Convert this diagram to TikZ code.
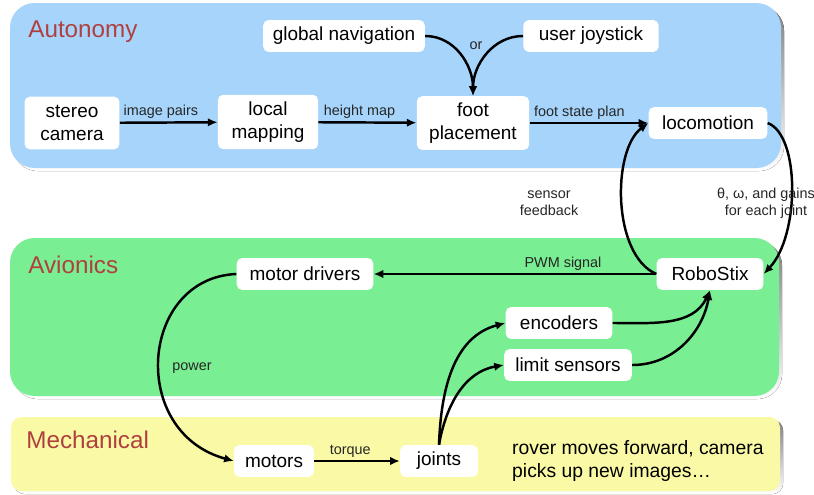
\documentclass[tikz,border=0pt]{standalone}
\usepackage{fontspec}
\setmainfont{Liberation Sans}
\usetikzlibrary{arrows.meta}

\definecolor{autoblue}{RGB}{166,212,251}
\definecolor{avgreen}{RGB}{122,238,146}
\definecolor{mechyellow}{RGB}{250,250,166}
\definecolor{titlered}{RGB}{176,64,64}
\definecolor{shade}{RGB}{150,150,150}

\tikzset{
	blk/.style={fill=white, rounded corners=3pt, align=center, inner xsep=0pt,
		font=\fontsize{10.8}{13}\selectfont, minimum height=18.1pt},
	lbl/.style={font=\fontsize{8.2}{9.8}\selectfont, text=black!85, align=center, inner sep=1.5pt},
	flow/.style={line width=1.4pt, -{Latex[length=5.5pt,width=4.8pt]}},
	ttl/.style={font=\fontsize{13.8}{16}\selectfont, text=titlered, anchor=west, inner sep=0pt},
}

\begin{document}
\begin{tikzpicture}[x=0.02cm, y=-0.02cm]
	\useasboundingbox (0,0) rectangle (814,494);

	% the three layers, each with its grey drop shadow
	\fill[shade, rounded corners=14pt] (13,6) rectangle (784,171);
	\fill[autoblue, rounded corners=14pt] (10,3) rectangle (781,168);
	\fill[shade, rounded corners=14pt] (13,241) rectangle (782,399);
	\fill[avgreen, rounded corners=14pt] (10,238) rectangle (779,396);
	\fill[shade, rounded corners=6pt] (14,420) rectangle (783,494);
	\fill[mechyellow, rounded corners=6pt] (11,417) rectangle (780,491);

	\node[ttl] (tauto) at (28,32) {Autonomy};
	\node[ttl] (tavio) at (28,265) {Avionics};
	\node[ttl] (tmech) at (26,440) {Mechanical};

	% autonomy
	\node[blk, minimum width=92pt] (gnav) at (344,36) {global navigation};
	\node[blk, minimum width=77pt] (joy) at (591,36) {user joystick};
	\node[blk, minimum width=54pt, minimum height=30pt] (cam) at (72,123) {stereo\\camera};
	\node[blk, minimum width=57pt, minimum height=31pt] (map) at (268,122) {local\\mapping};
	\node[blk, minimum width=64pt, minimum height=30.5pt] (fp) at (473,123) {foot\\placement};
	\node[blk, minimum width=67.5pt] (loco) at (708,123) {locomotion};

	% avionics
	\node[blk, minimum width=60.7pt] (robo) at (710,274) {RoboStix};
	\node[blk, minimum width=77.7pt] (md) at (305,274) {motor drivers};
	\node[blk, minimum width=60.7pt] (enc) at (559,323) {encoders};
	\node[blk, minimum width=72.6pt] (ls) at (568,365) {limit sensors};

	% mechanical
	\node[blk, minimum width=45.4pt] (mot) at (274,461) {motors};
	\node[blk, minimum width=44.2pt] (jnt) at (439,461) {joints};
	\node[anchor=west, align=left, font=\fontsize{11}{12.6}\selectfont] (note) at (506,461)
		{rover moves forward, camera\\picks up new images\dots};

	\draw[flow] (cam) -- (map) node[lbl, pos=0.42, above] {image pairs};
	\draw[flow] (map) -- (fp) node[lbl, pos=0.42, above] {height map};
	\draw[flow] (fp.east) -- (loco.west) node[lbl, pos=0.42, above] {foot state plan};
	\draw[flow] (gnav.east) to[out=0, in=90] (fp.north);
	\draw[flow] (joy.west) to[out=180, in=90] (fp.north);
	\node[lbl] (or) at (476,46) {or};

	\draw[flow] (loco.east) .. controls (800,135) and (800,235) .. (robo.east);
	\draw[flow] (robo.west) .. controls (612,255) and (612,150) .. (loco.west);
	\node[lbl] (fb) at (549,203) {sensor\\feedback};
	\node[lbl] (cmd) at (766,203) {θ, ω, and gains\\for each joint};

	\draw[flow] (robo.west) -- (md.east) node[lbl, pos=0.33, above] {PWM signal};
	\draw[flow] (md.west) .. controls (140,278) and (128,432) .. (mot.west);
	\node[lbl] (pw) at (192,368) {power};
	\draw[flow] (mot) -- (jnt) node[lbl, pos=0.42, above] {torque};

	\draw[flow] (jnt.north) to[out=88, in=195] (enc.west);
	\draw[flow] (jnt.north) to[out=80, in=190] (ls.west);
	\draw[flow] (enc.east) to[out=0, in=-115] (robo.south);
	\draw[flow] (ls.east) to[out=0, in=-100] (robo.south);
\end{tikzpicture}
\end{document}
